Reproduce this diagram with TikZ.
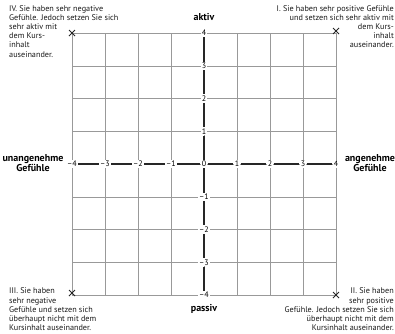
\documentclass[tikz,border=0pt]{standalone}
\usepackage{fontspec}
\setmainfont{PT Sans}
\begin{document}
\begin{tikzpicture}[x=1pt,y=-1pt,
  gridline/.style={draw=black!40,line width=0.5pt},
  axisline/.style={draw=black!85,line width=1.1pt},
  num/.style={fill=white,inner sep=1.2pt,font=\fontsize{8}{8}\selectfont,text=black},
  corner/.style={inner sep=0pt,font=\fontsize{8.2}{9.2}\selectfont,text=black!90},
  pole/.style={inner sep=0pt,align=center,font=\fontsize{10}{10.5}\selectfont\bfseries},
  xm/.style={draw=black!85,line width=0.9pt}]
\useasboundingbox (0,0) rectangle (395,333);
\clip (0,0) rectangle (395,333);
% grid
\foreach \i in {0,...,8}{
  \draw[gridline] (72+33*\i,33) -- (72+33*\i,295);
  \draw[gridline] (72,33+32.75*\i) -- (336,33+32.75*\i);
}
% axis labels
\foreach \n/\t/\nm in {-4/–4/hm4,-3/–3/hm3,-2/–2/hm2,-1/–1/hm1,0/0/h0,1/1/h1,2/2/h2,3/3/h3,4/4/h4}
  \node[num] (\nm) at (204+33*\n,164) {\t};
\foreach \n/\t/\nm in {4/4/v4,3/3/v3,2/2/v2,1/1/v1,-1/–1/vm1,-2/–2/vm2,-3/–3/vm3,-4/–4/vm4}
  \node[num] (\nm) at (204,164-32.75*\n) {\t};
% axes
\draw[axisline] (hm4) -- (hm3);
\draw[axisline] (hm3) -- (hm2);
\draw[axisline] (hm2) -- (hm1);
\draw[axisline] (hm1) -- (h0);
\draw[axisline] (h0) -- (h1);
\draw[axisline] (h1) -- (h2);
\draw[axisline] (h2) -- (h3);
\draw[axisline] (h3) -- (h4);
\draw[axisline] (v4) -- (v3);
\draw[axisline] (v3) -- (v2);
\draw[axisline] (v2) -- (v1);
\draw[axisline] (v1) -- (h0);
\draw[axisline] (h0) -- (vm1);
\draw[axisline] (vm1) -- (vm2);
\draw[axisline] (vm2) -- (vm3);
\draw[axisline] (vm3) -- (vm4);
% corner marks
\draw[xm] (69,30) -- (75,36) (75,30) -- (69,36);
\draw[xm] (333,28) -- (339,34) (339,28) -- (333,34);
\draw[xm] (69,290) -- (75,296) (75,290) -- (69,296);
\draw[xm] (333,292) -- (339,298) (339,292) -- (333,298);
% poles
\node[pole] (aktiv) at (204,17) {aktiv};
\node[pole] (passiv) at (204,309) {passiv};
\node[pole] (unang) at (33,163) {unangenehme\\Gefühle};
\node[pole] (ang) at (370,163) {angenehme\\Gefühle};
% corner texts
\node[corner,anchor=north west,align=left] (q4) at (9,5)
  {IV. Sie haben sehr negative\\Gefühle. Jedoch setzen Sie sich\\sehr aktiv mit\\dem Kurs-\\inhalt\\auseinander.};
\node[corner,anchor=north east,align=right] (q1) at (394,5)
  {I. Sie haben sehr positive Gefühle\\und setzen sich sehr aktiv mit\\dem Kurs-\\inhalt\\auseinander.};
\node[corner,anchor=south west,align=left] (q3) at (9,331)
  {III. Sie haben\\sehr negative\\Gefühle und setzen sich\\überhaupt nicht mit dem\\Kursinhalt auseinander.};
\node[corner,anchor=south east,align=right] (q2) at (394,331)
  {II. Sie haben\\sehr positive\\Gefühle. Jedoch setzen Sie sich\\überhaupt nicht mit dem\\Kursinhalt auseinander.};
\end{tikzpicture}
\end{document}
